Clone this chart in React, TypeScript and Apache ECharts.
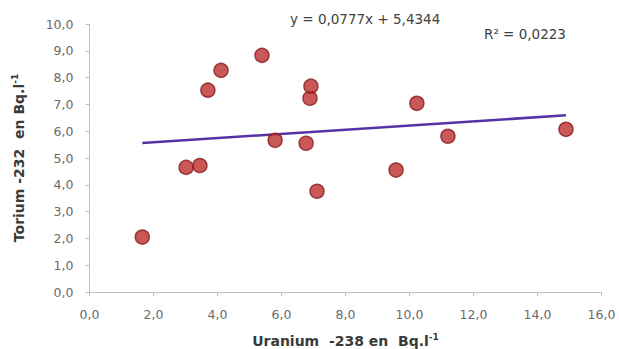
import React, { useEffect, useRef } from "react";
import * as echarts from "echarts";

const uranium = [1.65, 3.02, 3.45, 3.7, 4.11, 5.39, 5.8, 6.77, 6.89, 6.92, 7.11, 9.58, 10.23, 11.2, 14.89];
const torium = [2.05, 4.65, 4.72, 7.53, 8.27, 8.83, 5.66, 5.55, 7.23, 7.68, 3.76, 4.55, 7.04, 5.81, 6.07];
const slope = 0.0777;
const intercept = 5.4344;
const trendX = [1.65, 14.89];
const equationText = "y = 0,0777x + 5,4344";
const r2Text = "R² = 0,0223";

const fmt = (v: number) => v.toFixed(1).replace(".", ",");

export default function App() {
  const ref = useRef<HTMLDivElement>(null);
  useEffect(() => {
    if (!ref.current) return;
    const chart = echarts.init(ref.current, null, { renderer: "svg" });
    const font = "'DejaVu Sans', 'Open Sans', sans-serif";
    const scatterData = uranium.map((u, i) => [u, torium[i]]);
    const trendData = trendX.map((x) => [x, slope * x + intercept]);
    const rich = {
      b: { fontWeight: "bold", fontSize: 14, color: "#3a3a3a", fontFamily: font },
      sup: { fontWeight: "bold", fontSize: 9, color: "#3a3a3a", fontFamily: font, verticalAlign: "top", padding: [0, 0, 8, 0] },
    };
    chart.setOption({
      animation: false,
      textStyle: { fontFamily: font },
      grid: { left: 89.5, right: 17.5, top: 24, bottom: 57, outerBoundsMode: "none", containLabel: false },
      xAxis: {
        type: "value",
        min: 0,
        max: 16,
        interval: 2,
        name: "{b|Uranium  -238 en  Bq.l}{sup|-1}",
        nameLocation: "middle",
        nameGap: 40,
        nameTextStyle: { rich },
        axisLine: { show: true, lineStyle: { color: "#bfbfbf", width: 1 } },
        axisTick: { show: true, length: 4, lineStyle: { color: "#bfbfbf" } },
        splitLine: { show: false },
        axisLabel: { formatter: fmt, color: "#6a6a6a", fontSize: 12.5, margin: 16, fontFamily: font },
      },
      yAxis: {
        type: "value",
        min: 0,
        max: 10,
        interval: 1,
        name: "{b|Torium -232  en Bq.l}{sup|-1}",
        nameLocation: "middle",
        nameGap: 62,
        nameTextStyle: { rich },
        axisLine: { show: true, lineStyle: { color: "#bfbfbf", width: 1 } },
        axisTick: { show: true, length: 4, lineStyle: { color: "#bfbfbf" } },
        splitLine: { show: false },
        axisLabel: { formatter: fmt, color: "#6a6a6a", fontSize: 12.5, margin: 16, fontFamily: font },
      },
      series: [
        {
          type: "line",
          data: trendData,
          symbol: "none",
          lineStyle: { color: "#5533a6", width: 2.5 },
          z: 2,
        },
        {
          type: "scatter",
          data: scatterData,
          symbolSize: 14,
          itemStyle: { color: "#bb2e2e", borderColor: "#8a1c1c", borderWidth: 1.5 },
          z: 3,
        },
      ],
      graphic: [
        {
          type: "text",
          left: 290,
          top: 12,
          style: { text: equationText, fontSize: 13.5, fill: "#404040", fontFamily: font },
        },
        {
          type: "text",
          left: 484,
          top: 27,
          style: { text: r2Text, fontSize: 13.5, fill: "#404040", fontFamily: font },
        },
      ],
    });
    return () => chart.dispose();
  }, []);
  return <div ref={ref} style={{ position: "fixed", left: 0, top: 0, width: 619, height: 349, background: "#fff" }} />;
}
